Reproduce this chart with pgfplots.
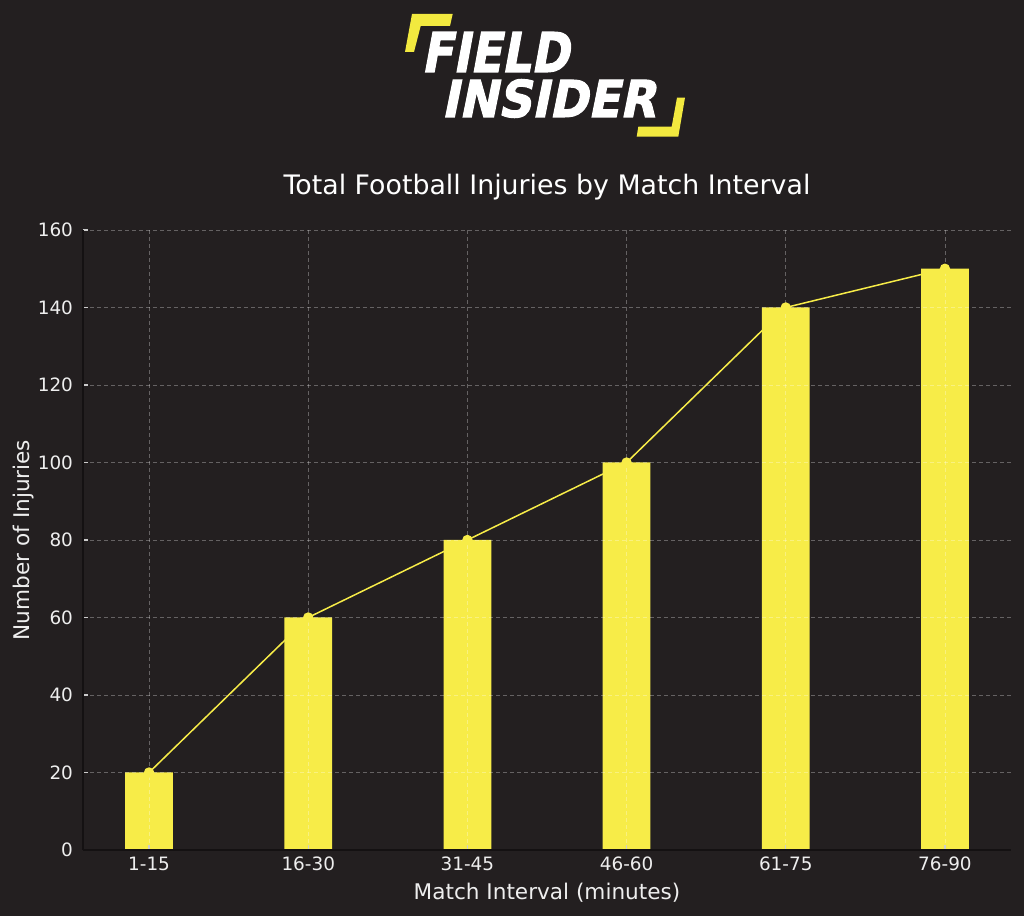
\documentclass[border=0pt]{standalone}
\usepackage{fontspec}
\setmainfont{DejaVu Sans}
\newfontfamily\logofont{DejaVu Sans}[BoldFeatures={FakeBold=2.2, FakeSlant=0.22}]
\usepackage{pgfplots}
\pgfplotsset{compat=1.18}
\definecolor{bg}{HTML}{231F20}
\definecolor{baryellow}{HTML}{F7EC48}
\definecolor{logoyellow}{HTML}{F2E93F}
\definecolor{txt}{HTML}{EEEEEE}
\definecolor{spine}{HTML}{141112}
\begin{document}
\begin{tikzpicture}[x=1pt,y=1pt]
\fill[bg] (0,0) rectangle (512,458);
\useasboundingbox (0,0) rectangle (512,458);
% logo
\fill[logoyellow] (206,451) -- (226.35,451) -- (225,445) -- (210.35,445) -- (207,432) -- (202.5,432) -- cycle;
\fill[logoyellow] (342.5,409.15) -- (338.5,409.15) -- (335.85,394.65) -- (319.15,394.65) -- (318.35,389.65) -- (339.15,389.65) -- cycle;
\node[anchor=base west, inner sep=0, text=white, font=\logofont\fontsize{27.4}{30}\selectfont\bfseries, xscale=0.84, transform shape] at (210.5,422) {FIELD};
\node[anchor=base west, inner sep=0, text=white, font=\logofont\fontsize{25.4}{28}\selectfont\bfseries, xscale=0.92, transform shape] at (220.5,399.5) {INSIDER};
% title and labels
\node[anchor=base, inner sep=0, text=white, font=\fontsize{13.4}{16}\selectfont] at (273.5,360.85) {Total Football Injuries by Match Interval};
\node[anchor=base, inner sep=0, text=txt, font=\fontsize{10.8}{13}\selectfont] at (273.5,8.35) {Match Interval (minutes)};
\node[anchor=base, inner sep=0, text=txt, rotate=90, font=\fontsize{10.8}{13}\selectfont] at (14.65,188) {Number of Injuries};
\begin{axis}[
  at={(41.5pt,33pt)}, anchor=south west, scale only axis,
  width=464pt, height=310pt,
  xmin=-0.415, xmax=5.415, ymin=0, ymax=160,
  xtick={0,1,2,3,4,5},
  xticklabels={1-15,16-30,31-45,46-60,61-75,76-90},
  ytick={0,20,...,160},
  grid=major,
  major grid style={white, opacity=0.3, dash pattern=on 2pt off 1.5pt, line width=0.4pt},
  axis on top,
  axis x line*=bottom, axis y line*=left,
  axis line style={spine, line width=0.7pt},
  tick style={color=white!80!black, line width=0.6pt},
  tick align=inside, major tick length=2.5pt,
  ticklabel style={text=txt, font=\fontsize{9.2}{11}\selectfont},
  yticklabel style={xshift=-1.5pt},
  /pgf/number format/assume math mode=true,
  clip=false,
]
\addplot[color=baryellow, line width=0.75pt, mark=*, mark size=2.2pt, mark options={fill=baryellow, draw=baryellow}]
  coordinates {(0,20) (1,60) (2,80) (3,100) (4,140) (5,150)};
\addplot[ybar, bar width=0.3, fill=baryellow, draw=none, bar shift=0pt]
  coordinates {(0,20) (1,60) (2,80) (3,100) (4,140) (5,150)};
\end{axis}
\end{tikzpicture}
\end{document}
